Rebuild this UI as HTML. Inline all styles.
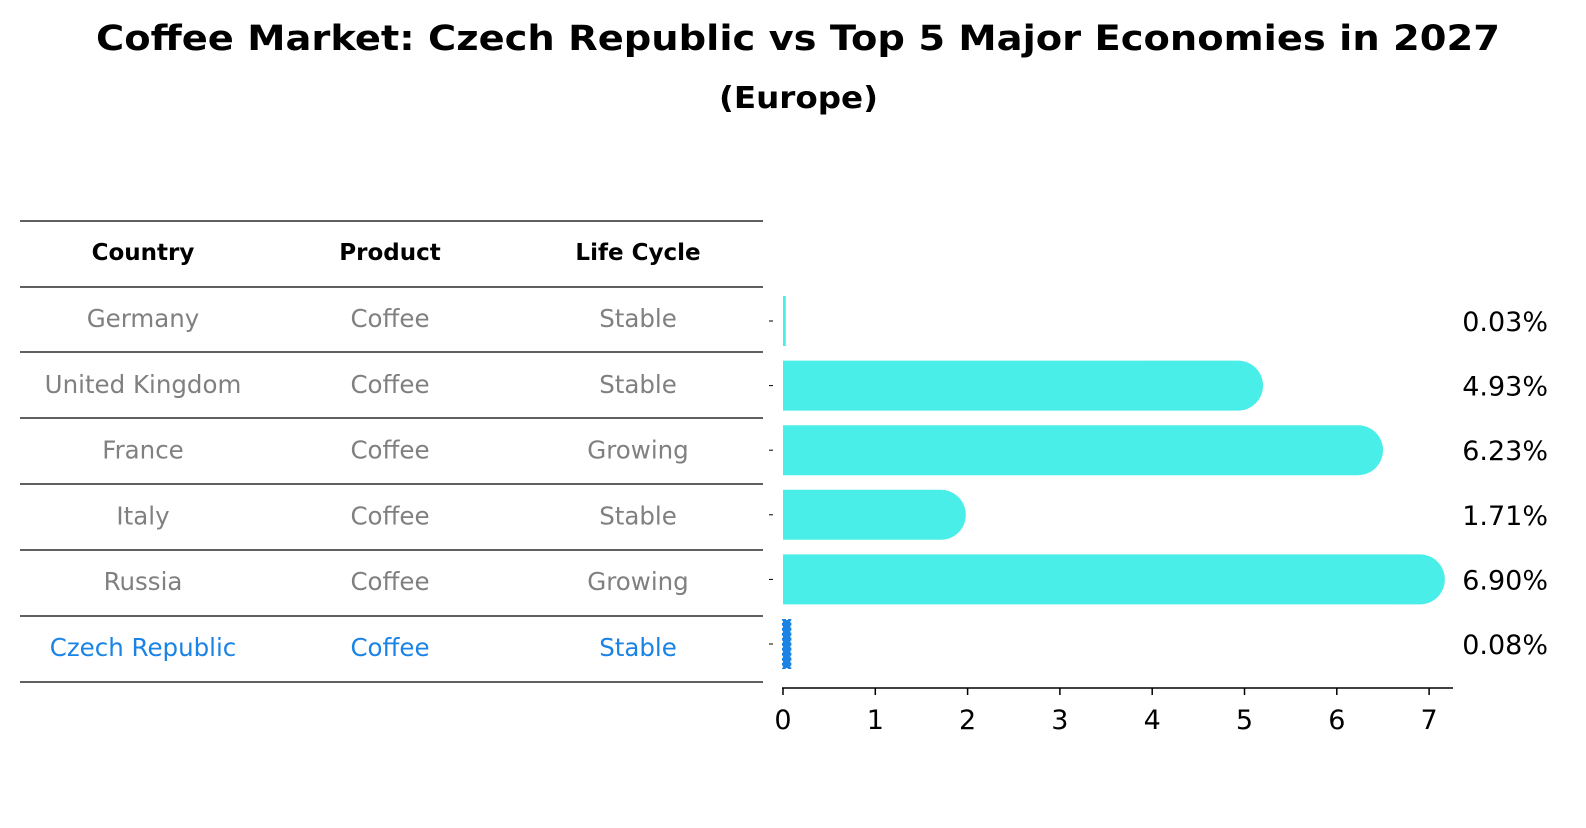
<!DOCTYPE html>
<html><head><meta charset="utf-8"><style>
body{margin:0;background:#fff;font-family:"Liberation Sans","DejaVu Sans",sans-serif}
</style></head><body>
<svg width="1586" height="823" xmlns="http://www.w3.org/2000/svg" font-family="DejaVu Sans, Liberation Sans, sans-serif">
<text x="96" y="50" font-size="35" font-weight="bold" textLength="1404" lengthAdjust="spacingAndGlyphs">Coffee Market: Czech Republic vs Top 5 Major Economies in 2027</text>
<text x="719" y="108" font-size="30" font-weight="bold" textLength="159" lengthAdjust="spacingAndGlyphs">(Europe)</text>
<g id="table"></g>
<g id="bars"></g>
<g id="axis"></g>
</svg>
<script>
const countries=["Germany","United Kingdom","France","Italy","Russia","Czech Republic"];
const products=["Coffee","Coffee","Coffee","Coffee","Coffee","Coffee"];
const lifecycles=["Stable","Stable","Growing","Stable","Growing","Stable"];
const values=[0.03,4.93,6.23,1.71,6.90,0.08];
const ticks=[0,1,2,3,4,5,6,7];
const NS="http://www.w3.org/2000/svg";
function mk(t,a,p,txt){const e=document.createElementNS(NS,t);for(const k in a)e.setAttribute(k,a[k]);if(txt!=null)e.textContent=txt;p.appendChild(e);return e;}
const x=v=>783+v*92.3;
const rowY=i=>321+i*64.6;
const tb=document.getElementById('table'),bg=document.getElementById('bars'),ax=document.getElementById('axis');
const lines=[221,287,352,418,484,550,616,682];
lines.forEach(y=>{const l=mk('line',{x1:20,x2:763,y1:y,y2:y,stroke:'#000','stroke-width':1.2},tb);

});
const cx=[143,390,638];
["Country","Product","Life Cycle"].forEach((h,j)=>{const t=mk('text',{x:cx[j],y:260,'text-anchor':'middle','font-size':23,'font-weight':'bold'},tb,h);

});
countries.forEach((c,i)=>{
 const col=i===countries.length-1?'#1a83e6':'#808080';
 const y=327+i*65.8;
 [c,products[i],lifecycles[i]].forEach((s,j)=>{const t=mk('text',{x:cx[j],y:y,'text-anchor':'middle','font-size':24.5,fill:col},tb,s);
 
 });
 const yc=rowY(i),h=50,r=25,w=x(values[i])-x(0);
 let b;
 if(i===countries.length-1){
  b=mk('rect',{x:x(0),y:yc-h/2+1,width:Math.max(w,4),height:h-2,fill:'#1a83e6',stroke:'#1a83e6','stroke-dasharray':'3 2','stroke-width':2},bg);
 } else if(w<r){
  b=mk('rect',{x:x(0),y:yc-h/2,width:Math.max(w,2.5),height:h,fill:'#4aeee9'},bg);
 } else {
  const x0=x(0),x1=x(values[i]);
  b=mk('path',{d:`M${x0},${yc-h/2}H${x1}A${r},${r} 0 0 1 ${x1},${yc+h/2}H${x0}Z`,fill:'#4aeee9'},bg);
 }
 
 
 const lt=mk('text',{x:1548,y:yc+10,'text-anchor':'end','font-size':27},bg,values[i].toFixed(2)+'%');
 
 
 const yt=mk('line',{x1:769,x2:773,y1:yc,y2:yc,stroke:'#000','stroke-width':1},ax);
 
 
});
const al=mk('line',{x1:782,x2:1453,y1:688,y2:688,stroke:'#000','stroke-width':1.5},ax);


ticks.forEach(t=>{const l=mk('line',{x1:x(t),x2:x(t),y1:688,y2:695,stroke:'#000','stroke-width':1.5},ax);


const tx=mk('text',{x:x(t),y:729,'text-anchor':'middle','font-size':27},ax,String(t));

});
</script>
</body></html>
